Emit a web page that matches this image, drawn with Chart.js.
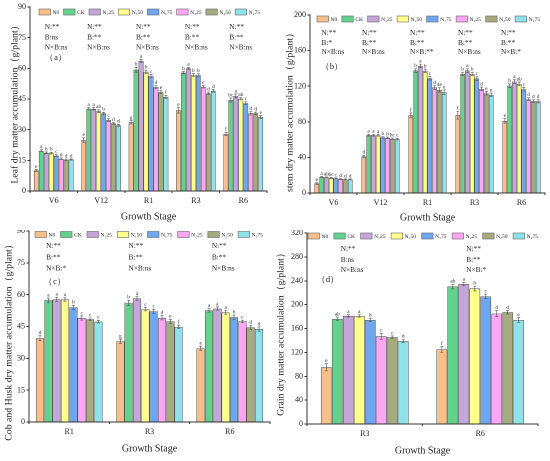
<!DOCTYPE html>
<html>
<head>
<meta charset="utf-8">
<script src="https://cdn.jsdelivr.net/npm/chart.js@4.4.1/dist/chart.umd.min.js"></script>
<style>
  body { margin: 0; background: #fff; }
  #wrap { position: relative; width: 550px; height: 461px; }
  canvas { position: absolute; }
</style>
</head>
<body>
<div id="wrap">
  <canvas id="leaf" width="275" height="230" style="left:0;top:0"></canvas>
  <canvas id="stem" width="275" height="230" style="left:275px;top:0"></canvas>
  <canvas id="cob" width="275" height="231" style="left:0;top:230px"></canvas>
  <canvas id="grain" width="275" height="231" style="left:275px;top:230px"></canvas>
</div>
<script>
const SERIF = '"Liberation Serif", "DejaVu Serif", serif';

// treatments (series)
const treatments = ["N0", "CK", "N₁25", "N₁50", "N₁75", "N₂25", "N₂50", "N₂75"];
const colors = ["#F9BF8B", "#62D28C", "#C4A6D8", "#FFFF8C", "#6FA7EF", "#FDA6F3", "#A6AA7E", "#8EE3EA"];

// (a) leaf — rows = stage, columns = treatment
const leafStages = ["V6", "V12", "R1", "R3", "R6"];
const leafValues = [
  [10.0, 19.7, 18.7, 18.5, 17.3, 15.8, 15.3, 15.4],
  [24.8, 40.3, 40.2, 39.0, 37.9, 34.7, 33.1, 32.1],
  [33.6, 59.3, 63.6, 58.3, 56.2, 50.8, 48.3, 46.0],
  [39.5, 57.9, 60.0, 56.7, 56.7, 51.0, 47.8, 49.0],
  [27.9, 44.5, 46.5, 45.2, 43.0, 38.0, 38.0, 36.2]
];
const leafErrors = [
  [0.5, 0.5, 0.4, 0.4, 0.4, 0.4, 0.3, 0.3],
  [1.2, 0.6, 0.6, 0.7, 0.6, 0.6, 0.4, 0.5],
  [0.8, 1.2, 0.8, 0.8, 0.8, 0.8, 0.7, 0.8],
  [1.4, 0.6, 0.5, 0.7, 0.6, 0.6, 0.6, 0.6],
  [0.8, 1.0, 1.0, 0.6, 0.6, 0.8, 0.6, 0.7]
];
const leafLetters = [
  ["e", "a", "b", "b", "c", "d", "d", "d"],
  ["e", "a", "a", "ab", "b", "c", "d", "d"],
  ["g", "b", "a", "b", "c", "d", "e", "f"],
  ["e", "b", "a", "b", "b", "c", "d", "d"],
  ["f", "bc", "a", "ab", "c", "d", "d", "e"]
];
const leafStats = [
  ["N:**", "B:ns", "N×B:ns"],
  ["N:**", "B:**", "N×B:ns"],
  ["N:**", "B:**", "N×B:ns"],
  ["N:**", "B:**", "N×B:ns"],
  ["N:**", "B:**", "N×B:ns"]
];

// (b) stem
const stemStages = ["V6", "V12", "R1", "R3", "R6"];
const stemValues = [
  [10.8, 18.0, 17.6, 16.8, 16.4, 15.7, 15.3, 15.3],
  [41.0, 65.0, 65.0, 64.7, 62.4, 62.0, 61.0, 60.6],
  [87.5, 137.6, 142.8, 137.2, 129.0, 118.5, 115.9, 113.3],
  [87.5, 133.8, 137.6, 133.8, 128.6, 117.0, 112.0, 110.3],
  [81.1, 120.7, 125.2, 122.6, 116.6, 105.4, 103.2, 103.2]
];
const stemErrors = [
  [1.0, 0.5, 0.5, 0.5, 0.5, 0.5, 0.5, 0.5],
  [1.5, 1.0, 1.0, 0.8, 0.8, 0.8, 0.8, 0.8],
  [2.5, 2.0, 2.0, 2.0, 2.0, 2.0, 2.5, 2.5],
  [4.5, 2.0, 2.0, 2.0, 2.0, 2.0, 2.0, 2.0],
  [2.5, 2.0, 2.0, 2.0, 2.0, 1.5, 1.5, 2.0]
];
const stemLetters = [
  ["e", "a", "ab", "bc", "c", "d", "d", "d"],
  ["d", "a", "a", "a", "b", "b", "bc", "c"],
  ["f", "b", "a", "b", "c", "d", "de", "e"],
  ["f", "b", "a", "b", "c", "d", "e", "e"],
  ["e", "b", "a", "ab", "c", "d", "d", "d"]
];
const stemStats = [
  ["N:**", "B:*", "N×B:ns"],
  ["N:**", "B:**", "N×B:ns"],
  ["N:**", "B:**", "N×B:**"],
  ["N:**", "B:**", "N×B:ns"],
  ["N:**", "B:**", "N×B:*"]
];

// (c) cob and husk
const cobStages = ["R1", "R3", "R6"];
const cobValues = [
  [39.5, 57.4, 57.8, 57.7, 54.0, 49.0, 48.4, 47.3],
  [38.0, 56.2, 58.2, 53.2, 52.1, 49.1, 47.4, 44.8],
  [34.7, 52.6, 53.4, 51.6, 49.4, 47.4, 44.6, 43.8]
];
const cobErrors = [
  [1.2, 1.0, 1.0, 0.8, 1.0, 1.0, 0.6, 0.6],
  [1.0, 1.2, 1.0, 0.8, 1.0, 1.0, 1.0, 0.8],
  [1.0, 0.8, 0.8, 1.0, 1.0, 0.6, 1.0, 1.0]
];
const cobLetters = [
  ["d", "a", "a", "a", "b", "c", "c", "c"],
  ["g", "b", "a", "c", "c", "d", "e", "f"],
  ["e", "a", "a", "a", "b", "c", "d", "d"]
];
const cobStats = [
  ["N:**", "B:**", "N×B:*"],
  ["N:**", "B:**", "N×B:ns"],
  ["N:**", "B:**", "N×B:ns"]
];

// (d) grain
const grainStages = ["R3", "R6"];
const grainValues = [
  [95.0, 176.2, 181.2, 181.0, 174.3, 147.0, 145.5, 139.2],
  [125.0, 230.3, 234.5, 227.0, 213.7, 185.0, 187.2, 174.3]
];
const grainErrors = [
  [6, 3, 2, 2, 3, 5, 2, 3],
  [5, 4, 3, 4, 4, 5, 3, 4]
];
const grainLetters = [
  ["e", "ab", "a", "a", "b", "c", "c", "d"],
  ["f", "ab", "a", "b", "c", "d", "d", "e"]
];
const grainStats = [
  ["N:**", "B:ns", "N×B:ns"],
  ["N:**", "B:**", "N×B:*"]
];

// Plugin de décor : barres d'erreur, lettres, légende, titres
function decor(p) {
  return {
    id: "decor",
    afterDatasetsDraw(chart) {
      const ctx = chart.ctx;
      const area = chart.chartArea;
      const ys = chart.scales.y;
      const xs = chart.scales.x;
      ctx.save();

      // barres d'erreur + lettres
      chart.data.datasets.forEach((ds, di) => {
        chart.getDatasetMeta(di).data.forEach((bar, ci) => {
          const v = ds.data[ci];
          const e = p.errors[ci][di];
          const yTop = ys.getPixelForValue(v + e);
          const yBot = ys.getPixelForValue(v - e);
          const x = bar.x;
          ctx.strokeStyle = "#555";
          ctx.lineWidth = 0.6;
          ctx.beginPath();
          ctx.moveTo(x, yTop); ctx.lineTo(x, yBot);
          ctx.moveTo(x - 1.5, yTop); ctx.lineTo(x + 1.5, yTop);
          ctx.moveTo(x - 1.5, yBot); ctx.lineTo(x + 1.5, yBot);
          ctx.stroke();
          ctx.fillStyle = "#333";
          ctx.font = `5.5px ${SERIF}`;
          ctx.textAlign = "center";
          ctx.textBaseline = "bottom";
          ctx.fillText(p.letters[ci][di], x, yTop - 0.3);
        });
      });

      // stats N / B / NxB
      ctx.font = `7.3px ${SERIF}`;
      ctx.textAlign = "left";
      ctx.textBaseline = "middle";
      ctx.fillStyle = "#222";
      p.stats.forEach((lines, ci) => {
        const x = xs.getPixelForValue(ci) + p.statDx[ci];
        lines.forEach((t, li) => ctx.fillText(t, x, p.statY[li]));
      });

      // étiquette du panneau
      ctx.font = `8.5px ${SERIF}`;
      ctx.textAlign = "center";
      ctx.fillText(p.tag, p.tagX, p.tagY);

      // légende
      const boxW = 11.5, boxH = 6;
      ctx.font = `5.5px ${SERIF}`;
      const items = chart.data.datasets;
      const widths = items.map((d) => boxW + 2 + ctx.measureText(d.label).width);
      const total = widths.reduce((a, b) => a + b, 0);
      const gap = (p.legX2 - p.legX1 - total) / (items.length - 1);
      let lx = p.legX1;
      ctx.textAlign = "left";
      items.forEach((d, i) => {
        ctx.fillStyle = d.backgroundColor;
        ctx.fillRect(lx, p.legY - boxH / 2, boxW, boxH);
        ctx.strokeStyle = "#666";
        ctx.lineWidth = 0.6;
        ctx.strokeRect(lx, p.legY - boxH / 2, boxW, boxH);
        ctx.fillStyle = "#222";
        ctx.fillText(d.label, lx + boxW + 2, p.legY + 0.5);
        lx += widths[i] + gap;
      });

      // titres des axes
      ctx.fillStyle = "#222";
      ctx.font = `10px ${SERIF}`;
      ctx.textAlign = "center";
      ctx.fillText("Growth Stage", (area.left + area.right) / 2, p.xTitleY);

      ctx.translate(p.yTitleX, p.yTitleY);
      ctx.rotate(-Math.PI / 2);
      ctx.font = `9.8px ${SERIF}`;
      ctx.fillText(p.yTitle, 0, 0);
      ctx.restore();
    }
  };
}

function dessiner(p) {
  const datasets = treatments.map((t, i) => ({
    label: t,
    data: p.values.map((row) => row[i]),
    backgroundColor: colors[i],
    borderColor: "#555",
    borderWidth: 0.7,
    barPercentage: 1,
    categoryPercentage: p.catPct
  }));

  new Chart(document.getElementById(p.id), {
    type: "bar",
    data: { labels: p.stages, datasets },
    options: {
      responsive: false,
      animation: false,
      devicePixelRatio: 2,
      layout: { padding: { left: 0, top: p.area.t, right: p.w - p.area.r, bottom: 0 } },
      plugins: { legend: { display: false }, tooltip: { enabled: false } },
      scales: {
        x: {
          offset: true,
          grid: { drawOnChartArea: false, offset: true, tickLength: 2, color: "#333" },
          border: { color: "#333", width: 1 },
          ticks: { color: "#222", font: { family: SERIF, size: 8 }, padding: 3 },
          afterFit: (s) => { s.height = p.h - p.area.b; s.paddingLeft = 0; s.paddingRight = 0; }
        },
        y: {
          min: 0,
          max: p.yMax,
          grid: { drawOnChartArea: false, tickLength: 2.5, color: "#333" },
          border: { color: "#333", width: 1 },
          ticks: { stepSize: p.yStep, color: "#222", font: { family: SERIF, size: 8 }, padding: 1.5 },
          afterFit: (s) => { s.width = p.area.l; s.paddingTop = 0; s.paddingBottom = 0; }
        }
      }
    },
    plugins: [decor(p)]
  });
}

dessiner({
  id: "leaf", w: 275, h: 230, area: { l: 30, t: 7, r: 267, b: 191 },
  stages: leafStages, values: leafValues, errors: leafErrors, letters: leafLetters, stats: leafStats,
  yMax: 90, yStep: 15, catPct: 0.84,
  statDx: [-9, -14, -12.5, -11, -14], statY: [27, 37.5, 47.5], tag: "（a）", tagX: 56, tagY: 58,
  legX1: 39, legX2: 260, legY: 12, xTitleY: 217,
  yTitle: "Leaf dry matter accumulation（g/plant）", yTitleX: 15, yTitleY: 102
});

dessiner({
  id: "stem", w: 275, h: 230, area: { l: 35, t: 15, r: 270, b: 193 },
  stages: stemStages, values: stemValues, errors: stemErrors, letters: stemLetters, stats: stemStats,
  yMax: 200, yStep: 40, catPct: 0.81,
  statDx: [-12, -18.5, -17.5, -16.5, -20.5], statY: [33, 43, 52], tag: "（b）", tagX: 57, tagY: 67,
  legX1: 42, legX2: 265, legY: 19, xTitleY: 218,
  yTitle: "stem dry matter accumulation（g/plant）", yTitleX: 15, yTitleY: 110
});

dessiner({
  id: "cob", w: 275, h: 231, area: { l: 29, t: 1, r: 270, b: 192 },
  stages: cobStages, values: cobValues, errors: cobErrors, letters: cobLetters, stats: cobStats,
  yMax: 90, yStep: 15, catPct: 0.83,
  statDx: [-23, -21, -18], statY: [16, 27.5, 38.5], tag: "（c）", tagX: 55, tagY: 52,
  legX1: 35, legX2: 263, legY: 4.5, xTitleY: 219,
  yTitle: "Cob and Husk dry matter accumulation（g/plant）", yTitleX: 9, yTitleY: 110
});

dessiner({
  id: "grain", w: 275, h: 231, area: { l: 32, t: 3, r: 263, b: 194 },
  stages: grainStages, values: grainValues, errors: grainErrors, letters: grainLetters, stats: grainStats,
  yMax: 320, yStep: 40, catPct: 0.76,
  statDx: [-24, -14], statY: [19, 30, 40], tag: "（d）", tagX: 53, tagY: 50,
  legX1: 33, legX2: 263, legY: 6, xTitleY: 221,
  yTitle: "Grain dry matter accumulation（g/plant）", yTitleX: 6, yTitleY: 102
});
</script>
</body>
</html>
